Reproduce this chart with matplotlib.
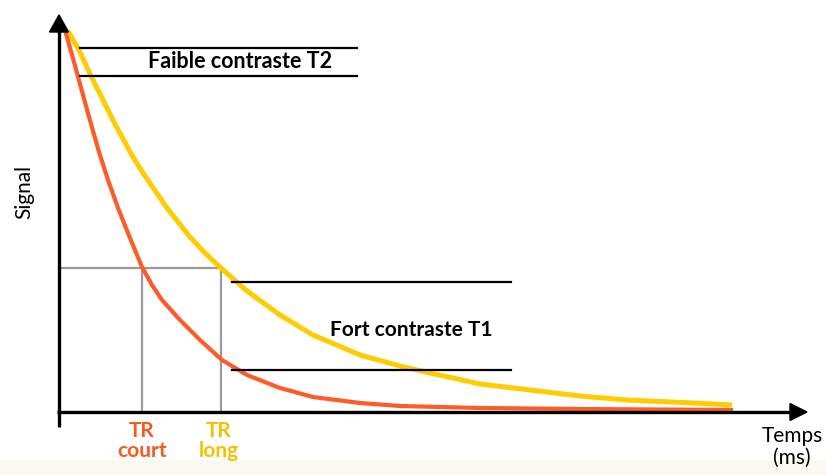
import matplotlib
matplotlib.use("Agg")
import matplotlib.pyplot as plt
from matplotlib.patches import FancyArrow

# ---- data (time in ms, signal in arbitrary units) ----
t_red = [24, 60, 96, 128, 160, 196, 236, 284, 332, 372, 412, 484, 564, 652, 752, 884, 1016, 1204, 1364, 1684, 2084, 2696]
s_red = [382, 350, 317, 288, 260, 232, 204, 174, 145, 127, 112, 92, 72, 52, 37, 24, 15, 9, 6, 4, 3, 2]
t_yel = [36, 80, 128, 164, 228, 296, 336, 432, 524, 584, 652, 752, 884, 1016, 1204, 1364, 1484, 1684, 1884, 2084, 2272, 2536, 2692]
s_yel = [381, 362, 336, 318, 286, 255, 239, 204, 175, 159, 143, 121, 97, 77, 57, 46, 39, 28, 22, 16, 12, 9, 7]

tr_court = 332
tr_long = 648
tr_level = 144

t2_lines = [364, 336]
t2_span = [84, 1192]
t1_lines = [130, 42]
t1_span = [692, 1808]

x_end = 2992
y_end = 397

RED = "#ff5a28"
YEL = "#ffcc00"

fig = plt.figure(figsize=(8.26, 4.75), dpi=100)
ax = fig.add_axes([0, 0, 1, 1])
ax.set_xlim(-236, 3068)
ax.set_ylim(-63, 412)
ax.axis("off")

# faint background band at the bottom
ax.axhspan(-63, -48, color="#fbf8f1", zorder=0, lw=0)

# gray TR guides
ax.plot([0, tr_long], [tr_level, tr_level], color="#9a9a9a", lw=1.6, zorder=2)
ax.plot([tr_court, tr_court], [0, tr_level], color="#9a9a9a", lw=1.6, zorder=2)
ax.plot([tr_long, tr_long], [0, tr_level], color="#9a9a9a", lw=1.6, zorder=2)

# curves
ax.plot(t_yel, s_yel, color=YEL, lw=3.6, solid_capstyle="butt", solid_joinstyle="round", zorder=3)
ax.plot(t_red, s_red, color=RED, lw=3.0, solid_capstyle="butt", solid_joinstyle="round", zorder=4)

# black contrast lines
for yv in t2_lines:
    ax.plot(t2_span, [yv, yv], color="black", lw=1.6, zorder=5)
for yv in t1_lines:
    ax.plot(t1_span, [yv, yv], color="black", lw=1.6, zorder=5)

# axes with arrows
ax.plot([-8, x_end - 60], [0, 0], color="black", lw=2.4, zorder=6, solid_capstyle="butt")
ax.plot([0, 0], [-15, y_end - 14], color="black", lw=2.4, zorder=6, solid_capstyle="butt")
ax.add_patch(FancyArrow(x_end - 68, 0, 68, 0, width=0, head_width=17, head_length=68,
                        length_includes_head=True, color="black", zorder=7))
ax.add_patch(FancyArrow(0, y_end - 17, 0, 17, width=0, head_width=76, head_length=17,
                        length_includes_head=True, color="black", zorder=7))

fam = ["Lato", "DejaVu Sans"]
ax.text(724, 350, "Faible contraste T2", ha="center", va="center",
        fontsize=15.5, fontweight="bold", family=fam)
ax.text(1408, 82, "Fort contraste T1", ha="center", va="center",
        fontsize=15, fontweight="bold", family=fam)

ax.text(tr_court, -9, "TR\ncourt", ha="center", va="top", color="#f25c1e",
        fontsize=15, fontweight="bold", family=fam, linespacing=1.0)
ax.text(tr_long - 8, -9, "TR\nlong", ha="center", va="top", color="#f5c000",
        fontsize=15, fontweight="bold", family=fam, linespacing=1.0)

ax.text(2932, -14, "Temps\n(ms)", ha="center", va="top", fontsize=15, family=fam,
        linespacing=1.1)
ax.text(-140, 220, "Signal", ha="center", va="center", rotation=90, fontsize=15, family=fam)

fig.savefig("out.png", dpi=100)
